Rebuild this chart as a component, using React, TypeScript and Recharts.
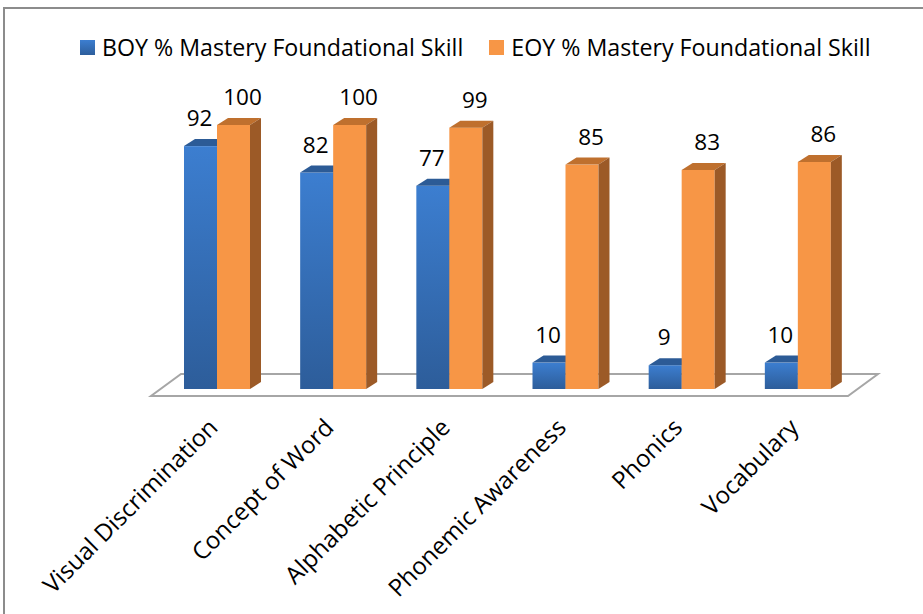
import React from 'react';
import { BarChart, Bar, XAxis, YAxis, Legend, ReferenceLine, LabelList } from 'recharts';

const categories = [
  'Visual Discrimination',
  'Concept of Word',
  'Alphabetic Principle',
  'Phonemic Awareness',
  'Phonics',
  'Vocabulary',
];
const boyValues = [92, 82, 77, 10, 9, 10];
const eoyValues = [100, 100, 99, 85, 83, 86];
const seriesNames = ['BOY % Mastery Foundational Skill', 'EOY % Mastery Foundational Skill'];

const data = categories.map((name, i) => ({ name, boy: boyValues[i], eoy: eoyValues[i] }));

const FONT = '"Open Sans", sans-serif';
const DX = 11;
const DY = 7;

const bar3d = (front: string, top: string, side: string) => (p: any) => {
  const { x, y, width: w, height: h } = p;
  if (w == null || h == null) return null;
  return (
    <g>
      <rect x={x} y={y} width={w} height={h} fill={front} />
      <polygon points={`${x},${y} ${x + DX},${y - DY} ${x + w + DX},${y - DY} ${x + w},${y}`} fill={top} />
      <polygon points={`${x + w},${y} ${x + w + DX},${y - DY} ${x + w + DX},${y + h - DY} ${x + w},${y + h}`} fill={side} />
    </g>
  );
};

const Floor = (p: any) => {
  const { x1, y1, x2 } = p;
  if (x1 == null) return null;
  const pts = `${x1 - 8},${y1 + 7} ${x2 - 8},${y1 + 7} ${x2 + 22},${y1 - 15} ${x1 + 22},${y1 - 15}`;
  return <polygon points={pts} fill="#fff" stroke="#a6a6a6" strokeWidth={2} />;
};

const valueLabel = (shift: number) => (p: any) => (
  <text x={p.x + p.width / 2 + shift} y={p.y - 20} textAnchor="middle" fontFamily={FONT} fontSize={22.5} fill="#000">
    {p.value}
  </text>
);

const Tick = (p: any) => (
  <text
    transform={`translate(${p.x + 2},${p.y + 38}) rotate(-45)`}
    textAnchor="end"
    fontFamily={FONT}
    fontSize={24}
    fill="#000"
  >
    {p.payload.value}
  </text>
);

const LegendBox = () => (
  <div style={{ display: 'flex', alignItems: 'center', fontFamily: FONT, fontSize: 23.2, lineHeight: '32px', color: '#000' }}>
    <span style={{ width: 15, height: 15, background: 'linear-gradient(#3c7ed0,#2d5e9c)', marginRight: 7 }} />
    <span style={{ marginRight: 26 }}>{seriesNames[0]}</span>
    <span style={{ width: 15, height: 15, background: '#f79646', marginRight: 7 }} />
    <span>{seriesNames[1]}</span>
  </div>
);

export default function App() {
  return (
    <div style={{ position: 'fixed', left: 0, top: 0, width: 923, height: 614, overflow: 'hidden', background: '#fff' }}>
      <div style={{ position: 'absolute', left: 3, top: 7, width: 940, height: 640, border: '2px solid #8c8c8c', boxSizing: 'border-box' }} />
      <div style={{ position: 'absolute', left: 0, top: 0 }}>
        <BarChart width={923} height={614} data={data} margin={{ top: 125, right: 67, left: 159, bottom: 0 }} barGap={0} barSize={33}>
          <defs>
            <linearGradient id="boyGrad" x1="0" y1="0" x2="0" y2="1">
              <stop offset="0%" stopColor="#3c7ed0" />
              <stop offset="100%" stopColor="#2d5d9a" />
            </linearGradient>
          </defs>
          <XAxis dataKey="name" height={225} axisLine={false} tickLine={false} tickSize={0} tick={<Tick />} interval={0} />
          <YAxis hide domain={[0, 100]} />
          <ReferenceLine y={0} shape={<Floor />} ifOverflow="visible" zIndex={-10} />
          <Legend
            verticalAlign="middle"
            content={<LegendBox />}
            wrapperStyle={{ position: 'absolute', top: 31, left: 80, width: 'auto' }}
          />
          <Bar dataKey="boy" name={seriesNames[0]} isAnimationActive={false} shape={bar3d('url(#boyGrad)', '#2c5b96', '#24487a')}>
            <LabelList dataKey="boy" content={valueLabel(-1)} />
          </Bar>
          <Bar dataKey="eoy" name={seriesNames[1]} isAnimationActive={false} shape={bar3d('#f79646', '#bf702e', '#9c5a27')}>
            <LabelList dataKey="eoy" content={valueLabel(9)} />
          </Bar>
        </BarChart>
      </div>
    </div>
  );
}
